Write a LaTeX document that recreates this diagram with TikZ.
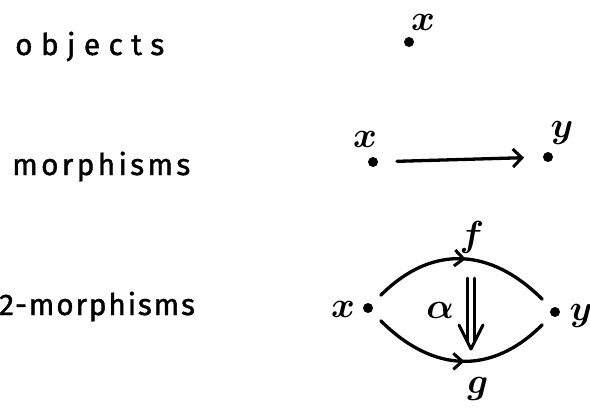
\documentclass[tikz,border=0pt]{standalone}
\usepackage{bm}
\usepackage{fontspec}
\setmainfont{Fira Sans}
\usetikzlibrary{arrows.meta,decorations.markings,calc}
\tikzset{
  pen/.style={line width=3.3bp, line cap=round, line join=round, black},
  dot/.style={circle, fill=black, inner sep=0pt, minimum size=10bp, outer sep=13bp},
  word/.style={anchor=base west, inner sep=0pt},
  lab/.style={font=\fontsize{20}{22}\selectfont, scale=1.75, inner sep=0pt, anchor=base},
  tip/.style={-{Straight Barb[length=9bp,width=18bp,line width=3bp]}},
  midtip/.style={postaction={decorate}, decoration={markings,
    mark=at position 0.52 with {\arrow{Straight Barb[length=9bp,width=16bp,line width=3bp]}}}}
}
\begin{document}
\begin{tikzpicture}[x=1bp, y=-1bp]
\useasboundingbox (0,0) rectangle (590,413);
% row labels
\node[word, font=\fontsize{30}{32}\selectfont\addfontfeature{FakeBold=1.3,LetterSpace=28}] (w1) at (15,55) {objects};
\node[word, font=\fontsize{30}{32}\selectfont\addfontfeature{FakeBold=1.3,LetterSpace=11}] (w2) at (12,175) {morphisms};
\node[word, font=\fontsize{30}{32}\selectfont\addfontfeature{FakeBold=1.3,LetterSpace=6}] (w3) at (-1,315) {2-morphisms};
% objects
\node[dot] (o) at (409,42) {};
\node[lab] (ox) at (423,30) {$\bm{x}$};
% morphisms
\node[dot] (mx) at (373,162) {};
\node[lab] (mxl) at (365,147) {$\bm{x}$};
\node[dot] (my) at (548,157) {};
\node[lab] (myl) at (562,137) {$\bm{y}$};
\draw[pen, tip, shorten <=6bp, shorten >=6bp] (mx) -- (my);
% 2-morphisms
\node[dot] (tx) at (368,308) {};
\node[lab] (txl) at (343,317) {$\bm{x}$};
\node[dot] (ty) at (555,312) {};
\node[lab] (tyl) at (581,320) {$\bm{y}$};
\node[lab] (f) at (472,246) {$\bm{f}$};
\node[lab] (g) at (478,393) {$\bm{g}$};
\node[lab] (al) at (440,318) {$\bm{\alpha}$};
\draw[pen, midtip] (tx) to[out=45, in=135, looseness=1.15] (ty);
\draw[pen, midtip] (tx) to[out=-45, in=-135, looseness=1.15] (ty);
\coordinate (a1) at (471,278);
\coordinate (a2) at (471,349);
\draw[pen, line width=2.6bp] ($(a1)+(-3.6,0)$) -- ($(a2)+(-3.6,-8)$);
\draw[pen, line width=2.6bp] ($(a1)+(3.6,0)$) -- ($(a2)+(3.6,-8)$);
\draw[pen, line width=3bp] ($(a2)+(-12,-24)$) -- (a2) -- ($(a2)+(12,-24)$);
\end{tikzpicture}
\end{document}
